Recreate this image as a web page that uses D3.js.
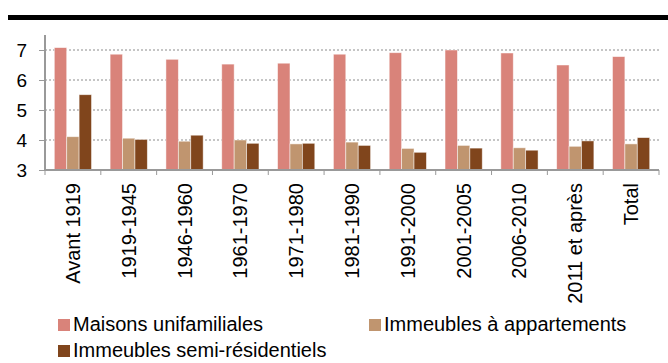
<!DOCTYPE html>
<html>
<head>
<meta charset="utf-8">
<script src="https://cdn.jsdelivr.net/npm/d3@7"></script>
<style>
  body { margin: 0; background: #fff; }
  svg { display: block; font-family: "Liberation Sans", Arial, sans-serif; }
</style>
</head>
<body>
<script>
const categories = ["Avant 1919", "1919-1945", "1946-1960", "1961-1970", "1971-1980",
  "1981-1990", "1991-2000", "2001-2005", "2006-2010", "2011 et après", "Total"];
const seriesNames = ["Maisons unifamiliales", "Immeubles à appartements", "Immeubles semi-résidentiels"];
const maisons = [7.08, 6.86, 6.69, 6.53, 6.56, 6.86, 6.91, 7.0, 6.9, 6.5, 6.78];
const appartements = [4.11, 4.06, 3.96, 4.0, 3.87, 3.93, 3.72, 3.82, 3.74, 3.79, 3.87];
const semiRes = [5.51, 4.02, 4.16, 3.89, 3.89, 3.82, 3.59, 3.73, 3.66, 3.97, 4.08];
const yTicks = [3, 4, 5, 6, 7];

const colors = ["#d9837a", "#c0956f", "#80451c"];
const seriesValues = [maisons, appartements, semiRes];

const w = 668, h = 363;
const svg = d3.select("body").append("svg").attr("width", w).attr("height", h);

// cut-off title remnant and black band
svg.append("text")
  .attr("x", 62).attr("y", 0)
  .attr("font-size", 16)
  .attr("fill", "#f8d2b2")
  .text("Source");
svg.append("rect")
  .attr("x", 8).attr("y", 15)
  .attr("width", w - 8).attr("height", 5)
  .attr("fill", "#000");

const x0 = d3.scaleBand().domain(categories).range([45, 659]);
const x1 = d3.scaleBand().domain(seriesNames)
  .range([0, x0.bandwidth()]).paddingOuter(0.75).paddingInner(0);
const y = d3.scaleLinear().domain([3, 7.5]).range([170, 35]);

// grid
svg.append("g")
  .selectAll("line")
  .data(yTicks.filter((d) => d > 3))
  .enter()
  .append("line")
  .attr("x1", 45).attr("x2", 659)
  .attr("y1", (d) => y(d)).attr("y2", (d) => y(d))
  .attr("stroke", "#8c8c8c")
  .attr("stroke-dasharray", "2,2");

// bars
const rows = categories.map((c, i) => ({ cat: c, vals: seriesValues.map((s) => s[i]) }));
const groups = svg.append("g")
  .selectAll("g")
  .data(rows)
  .enter()
  .append("g")
  .attr("transform", (d) => `translate(${x0(d.cat)},0)`);
groups.selectAll("rect")
  .data((d) => d.vals.map((v, k) => ({ k, v })))
  .enter()
  .append("rect")
  .attr("x", (d) => x1(seriesNames[d.k]))
  .attr("width", x1.bandwidth())
  .attr("y", (d) => y(d.v))
  .attr("height", (d) => y(3) - y(d.v))
  .attr("fill", (d) => colors[d.k])
  .attr("stroke", "rgba(255,255,255,0.6)")
  .attr("stroke-width", 0.8);

// y axis
const yAxis = d3.axisLeft(y).tickValues(yTicks).tickSize(6).tickPadding(12).tickFormat(d3.format("d"));
const gy = svg.append("g").attr("transform", "translate(45,0)").call(yAxis);
gy.select(".domain").attr("stroke", "#999").attr("stroke-width", 2)
  .attr("d", `M0,${y(7.5)}V${y(3)}`);
gy.selectAll(".tick line").attr("stroke", "#999").attr("x2", -6).attr("x1", 1);
gy.selectAll(".tick text")
  .attr("font-size", 19)
  .attr("font-family", "Liberation Sans, Arial, sans-serif")
  .attr("fill", "#000");

// x axis
const gx = svg.append("g");
gx.append("line")
  .attr("x1", 45).attr("x2", 659)
  .attr("y1", y(3)).attr("y2", y(3))
  .attr("stroke", "#999").attr("stroke-width", 2);
gx.selectAll(".xtick")
  .data(categories.concat([null]))
  .enter()
  .append("line")
  .attr("x1", (d) => (d === null ? 659 : x0(d)))
  .attr("x2", (d) => (d === null ? 659 : x0(d)))
  .attr("y1", y(3)).attr("y2", y(3) + 5)
  .attr("stroke", "#999");
gx.selectAll("text")
  .data(categories)
  .enter()
  .append("text")
  .attr("transform", (d) => `translate(${x0(d) + x0.bandwidth() / 2},${y(3) + 13}) rotate(-90)`)
  .attr("text-anchor", "end")
  .attr("dy", "0.35em")
  .attr("font-size", 20)
  .attr("fill", "#000")
  .text((d) => d);

// legend
const legendPos = [[58, 331], [369, 331], [58, 357]];
const legend = svg.append("g");
seriesNames.forEach((name, k) => {
  const [lx, ly] = legendPos[k];
  legend.append("rect")
    .attr("x", lx).attr("y", ly - 12)
    .attr("width", 12).attr("height", 12)
    .attr("fill", colors[k]);
  legend.append("text")
    .attr("x", lx + 15).attr("y", ly)
    .attr("font-size", 20)
    .attr("fill", "#000")
    .text(name);
});
</script>
</body>
</html>
